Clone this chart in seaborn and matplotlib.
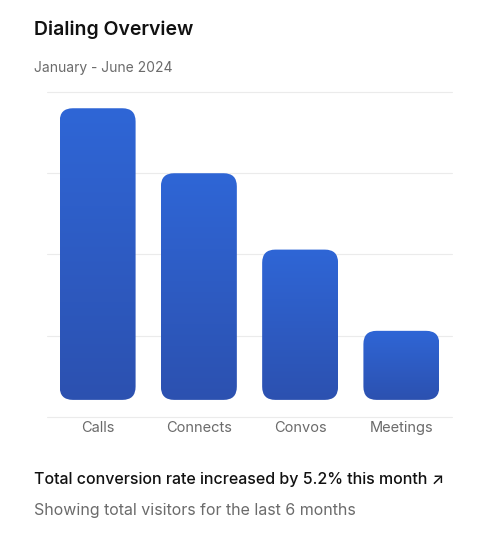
import matplotlib
matplotlib.use("Agg")
import matplotlib.pyplot as plt
import seaborn as sns
import numpy as np
import pandas as pd
from matplotlib.patches import FancyBboxPatch
from matplotlib.colors import LinearSegmentedColormap

categories = ["Calls", "Connects", "Convos", "Meetings"]
values = [380, 300, 206, 106]
base = 21

sns.set_theme(style="white")
plt.rcParams['font.family'] = ['Inter', 'DejaVu Sans']

fig = plt.figure(figsize=(5, 5.38), dpi=100)
ax = fig.add_axes([0.094, 0.225, 0.81, 0.604])
df = pd.DataFrame({"cat": categories, "val": values})
sns.barplot(data=df, x="cat", y="val", ax=ax, color="#2d5fcc", width=0.75)
ax.set_ylim(0, 400)
ax.set_xlim(-0.5, 3.5)
for y in [0, 100, 200, 300, 400]:
    ax.axhline(y, color="#ebebeb", lw=0.8, zorder=0, clip_on=False)

grad = np.linspace(0, 1, 256).reshape(-1, 1)
cmap = LinearSegmentedColormap.from_list("g", ["#2c51b0", "#2f66d6"])
patches = list(ax.patches)
for p in patches:
    x, w, h = p.get_x(), p.get_width(), p.get_height()
    p.remove()
    fb = FancyBboxPatch((x, base), w, h - base,
                        boxstyle="round,pad=0,rounding_size=0.13",
                        mutation_aspect=124.6,
                        facecolor="none", edgecolor="none")
    ax.add_patch(fb)
    im = ax.imshow(grad, cmap=cmap, extent=(x, x + w, base, h), aspect="auto",
                   origin="lower", zorder=2)
    im.set_clip_path(fb)
ax.set_xlim(-0.5, 3.5)
ax.set_ylim(0, 400)
ax.set_xlabel("")
ax.set_ylabel("")
ax.set_yticks([])
ax.tick_params(axis="x", length=0, labelsize=10.5, labelcolor="#6b6b6b", pad=3)
for s in ax.spines.values():
    s.set_visible(False)

fig.text(0.068, 0.935, "Dialing Overview", fontsize=14, color="#111111", fontweight="semibold")
fig.text(0.068, 0.867, "January - June 2024", fontsize=10, color="#6b6b6b")
fig.text(0.068, 0.1, "Total conversion rate increased by 5.2% this month \u2197", fontsize=11.5, color="#111111", fontweight="medium")
fig.text(0.068, 0.042, "Showing total visitors for the last 6 months", fontsize=11.5, color="#6b6b6b")
fig.savefig("out.png", dpi=100, facecolor="white")
